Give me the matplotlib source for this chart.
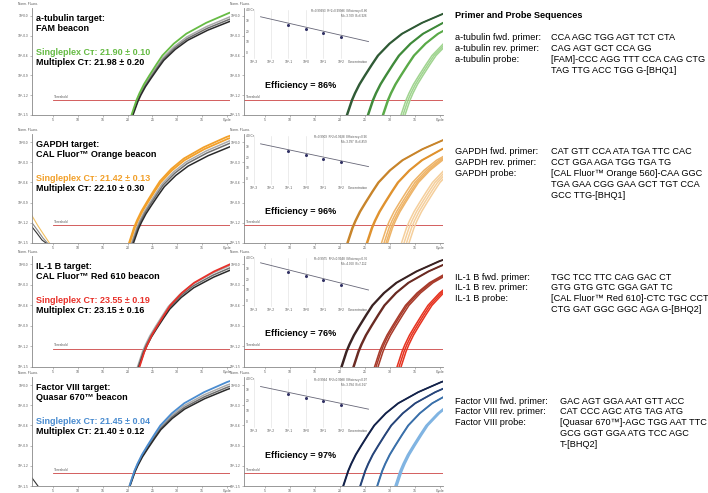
import numpy as np
import matplotlib
matplotlib.use("Agg")
import matplotlib.pyplot as plt

plt.rcParams['font.family'] = ['Liberation Sans', 'DejaVu Sans']

W, H = 708, 493

# text of the four panels
targets = ["a-tubulin target:", "GAPDH target:", "IL-1 B target:", "Factor VIII target:"]
beacons = ["FAM beacon", "CAL Fluor™ Orange beacon", "CAL Fluor™ Red 610 beacon", "Quasar 670™ beacon"]
single_ct_text = ["21.90 ± 0.10", "21.42 ± 0.13", "23.55 ± 0.19", "21.45 ± 0.04"]
multi_ct_text = ["21.98 ± 0.20", "22.10 ± 0.30", "23.15 ± 0.16", "21.40 ± 0.12"]
efficiency = [86, 96, 76, 97]
inset_notes = [["R=0.99993  R^2=0.99986  Efficiency=0.86", "M=-3.709  B=6.926"],
               ["R=0.9909  R^2=0.9938  Efficiency=0.96", "M=-3.397  B=6.859"],
               ["R=0.9975  R^2=0.9948  Efficiency=0.76", "M=-4.060  B=7.112"],
               ["R=0.9994  R^2=0.9988  Efficiency=0.97", "M=-3.394  B=6.917"]]

text_colors = ["#66bb44", "#f2a02a", "#e8312a", "#4a8cd0"]

# amplification curve shape (cycles relative to Ct, log fluorescence)
shape_dx = [-1.4, -1.0, -0.6, 0.0, 0.6, 1.5, 2.6, 4.0, 5.2, 7.5, 10.0, 14.0, 18.6, 24.0]
shape_y = [-0.35, 0.0, 0.3, 0.75, 1.1, 1.55, 2.0, 2.55, 3.0, 3.6, 4.1, 4.65, 5.15, 5.6]

# left panels: singleplex (coloured) and multiplex (grey) curves, Ct shift and plateau scale
left_single_ct = [[21.8], [21.3, 21.45], [23.4], [21.4]]
left_single_scale = [[1.0], [1.02, 1.0], [1.0], [1.0]]
left_multi_ct = [[21.9, 22.0, 22.1], [21.8, 22.0, 22.2], [23.0, 23.15, 23.3], [21.35, 21.45, 21.5]]
left_multi_scale = [[0.96, 0.94, 0.92], [0.98, 0.96, 0.93], [0.98, 0.96, 0.94], [0.97, 0.95, 0.93]]
multi_colors = ["#aaaaaa", "#6e6e6e", "#2a2a2a"]

# middle panels: dilution series
mid_group_ct = [[[22.3, 22.5], [26.5, 26.7], [29.5, 29.7], [33.2, 33.6, 34.0]],
                [[22.4, 22.6], [26.3, 26.5], [29.3, 29.8, 30.2, 30.5], [33.3, 33.8, 34.3, 34.8]],
                [[21.2, 21.4], [23.6, 23.8], [27.9, 28.2, 28.6], [32.4, 32.8, 33.2]],
                [[21.6, 21.7], [25.0, 25.1], [28.4, 28.5], [32.0, 32.2, 32.4]]]
mid_group_colors = [["#2f5a35", "#3f8a3a", "#5aaa48", "#a0d490"],
                    ["#c8842a", "#e0922e", "#eeb468", "#f5cf9c"],
                    ["#3a2222", "#6a2a22", "#a83a2a", "#e63320"],
                    ["#13224a", "#27457a", "#3a70aa", "#80b4e2"]]

thresholds = [0.75, 0.9, 0.9, 0.65]

# standard curve insets
inset_logc = [-1, 0, 1, 2]
inset_ct = [[26.4, 22.2, 18.4, 14.6], [26.0, 22.6, 19.2, 15.8],
            [27.5, 23.4, 19.4, 15.3], [26.3, 22.9, 19.5, 16.1]]
inset_fit_x = [-2.6, 3.6]
inset_fit_y = [[33.8, 10.8], [32.8, 11.7], [35.6, 10.4], [33.1, 12.1]]
inset_xlabels = ["10^-3", "10^-2", "10^-1", "10^0", "10^1", "10^2"]
inset_xpos = [-3, -2, -1, 0, 1, 2]
inset_yticks = [40, 30, 20, 10, 0]
inset_ylabels = ["40 Cт", "30", "20", "10", "0"]

# tick labels of the amplification plots
cycle_ticks = [5, 10, 15, 20, 25, 30, 35]
fluor_ticks = [0, 1, 2, 3, 4, 5]
fluor_labels = ["10^-1.5", "10^-1.2", "10^-0.9", "10^-0.6", "10^-0.3", "10^0.0"]

# primer tables
primer_labels = [["a-tubulin fwd. primer:", "a-tubulin rev. primer:", "a-tubulin probe:"],
                 ["GAPDH fwd. primer:", "GAPDH rev. primer:", "GAPDH probe:"],
                 ["IL-1 B fwd. primer:", "IL-1 B rev. primer:", "IL-1 B probe:"],
                 ["Factor VIII fwd. primer:", "Factor VIII rev. primer:", "Factor VIII probe:"]]
primer_seqs = [["CCA AGC TGG AGT TCT CTA", "CAG AGT GCT CCA GG",
                "[FAM]-CCC AGG TTT CCA CAG CTG", "TAG TTG ACC TGG G-[BHQ1]"],
               ["CAT GTT CCA ATA TGA TTC CAC", "CCT GGA AGA TGG TGA TG",
                "[CAL Fluor™ Orange 560]-CAA GGC", "TGA GAA CGG GAA GCT TGT CCA", "GCC TTG-[BHQ1]"],
               ["TGC TCC TTC CAG GAC CT", "GTG GTG GTC GGA GAT TC",
                "[CAL Fluor™ Red 610]-CTC TGC CCT", "CTG GAT GGC GGC AGA G-[BHQ2]"],
               ["GAC AGT GGA AAT GTT ACC", "CAT CCC AGC ATG TAG ATG",
                "[Quasar 670™]-AGC TGG AAT TTC", "GCG GGT GGA ATG TCC AGC", "T-[BHQ2]"]]

row_top = [8, 134, 256, 377]
row_bot = [115, 243, 367, 486]
first_line = [38, 152, 277, 401]
seq_x = [551, 551, 551, 560]

fig = plt.figure(figsize=(W / 100, H / 100), dpi=100)
fig.patch.set_facecolor("white")


def px_axes(x0, y0, x1, y1):
    return fig.add_axes([x0 / W, 1 - y1 / H, (x1 - x0) / W, (y1 - y0) / H])


def ftext(x, y, s, **kw):
    fig.text(x / W, 1 - y / H, s, **kw)


def style_amp(ax, thr, thr_start):
    ax.set_xlim(0.8, 40.6)
    ax.set_ylim(0, 5.4)
    for s in ["top", "right"]:
        ax.spines[s].set_visible(False)
    for s in ["left", "bottom"]:
        ax.spines[s].set_color("#888888")
        ax.spines[s].set_linewidth(0.6)
    ax.set_xticks(cycle_ticks + [40])
    ax.set_xticklabels([str(c) for c in cycle_ticks] + ["Cycle"], fontsize=2.5, color="#555555")
    ax.set_yticks(fluor_ticks)
    ax.set_yticklabels(fluor_labels, fontsize=2.3, color="#555555")
    ax.tick_params(length=1.5, width=0.4, pad=1, color="#888888")
    ax.axhline(thr, xmin=(thr_start - 0.8) / 39.8, color="#cc4444", lw=0.6)
    ax.text(thr_start + 0.3, thr + 0.1, "Threshold", fontsize=2.3, color="#555555")
    ax.text(-0.02, 1.03, "Norm. Fluoro.", transform=ax.transAxes, fontsize=2.3,
            color="#555555", ha="center")


for r in range(4):
    top, bot = row_top[r], row_bot[r]

    # left panel: singleplex vs multiplex
    ax = px_axes(32, top, 230, bot)
    style_amp(ax, thresholds[r], 5.0)
    if r == 1:
        ax.plot([0.8, 2.0, 3.2, 4.3], [1.35, 0.85, 0.4, 0.0], color="#f2c060", lw=0.8)
        ax.plot([0.8, 2.0, 3.0, 3.9], [1.0, 0.6, 0.25, 0.0], color="#888888", lw=0.8)
        ax.plot([0.8, 1.9, 2.8, 3.6], [0.8, 0.45, 0.15, 0.0], color="#333333", lw=0.8)
    if r == 3:
        ax.plot([0.8, 1.4, 2.0], [0.4, 0.2, 0.0], color="#333333", lw=0.8)
    for k, ct in enumerate(left_multi_ct[r]):
        ax.plot(np.array(shape_dx) + ct, np.array(shape_y) * left_multi_scale[r][k],
                color=multi_colors[k], lw=1.1)
    for k, ct in enumerate(left_single_ct[r]):
        ax.plot(np.array(shape_dx) + ct, np.array(shape_y) * left_single_scale[r][k],
                color=text_colors[r], lw=1.3)

    ftext(36, top + 6, targets[r], fontsize=6.5, fontweight="bold", va="top")
    ftext(36, top + 16, beacons[r], fontsize=6.5, fontweight="bold", va="top")
    ftext(36, top + 40, "Singleplex Cᴛ: " + single_ct_text[r], fontsize=6.5,
          fontweight="bold", va="top", color=text_colors[r])
    ftext(36, top + 50, "Multiplex Cᴛ: " + multi_ct_text[r], fontsize=6.5,
          fontweight="bold", va="top")

    # middle panel: dilution series
    ax = px_axes(244, top, 443, bot)
    style_amp(ax, thresholds[r], 0.8)
    for g, cts in enumerate(mid_group_ct[r]):
        for ct in cts:
            ax.plot(np.array(shape_dx) + ct, shape_y, color=mid_group_colors[r][g], lw=1.1)
    ftext(265, top + 78, "Efficiency = %d%%" % efficiency[r], fontsize=6.5,
          fontweight="bold", va="center")

    # standard curve inset
    ins = px_axes(244, top + 1, 372, top + 56)
    ins.patch.set_alpha(0)
    ins.set_xlim(-3.55, 3.8)
    ins.set_ylim(-10, 41)
    ins.axis("off")
    for xp, lab in zip(inset_xpos, inset_xlabels):
        ins.plot([xp, xp], [-4, 40], color="#dddddd", lw=0.4)
        ins.text(xp, -8.5, lab, fontsize=2.3, color="#555555", ha="center", va="center")
    ins.text(3.0, -8.5, "Concentration", fontsize=2.3, color="#555555", ha="center", va="center")
    for yp, lab in zip(inset_yticks, inset_ylabels):
        ins.text(-3.45, yp, lab, fontsize=2.3, color="#555555", ha="left", va="center")
    ins.plot(inset_fit_x, inset_fit_y[r], color="#666677", lw=0.6)
    ins.plot(inset_logc, inset_ct[r], "o", color="#333366", ms=1.2)
    ins.text(3.5, 39, inset_notes[r][0], fontsize=2.2, color="#555555", ha="right", va="center")
    ins.text(3.5, 34.5, inset_notes[r][1], fontsize=2.2, color="#555555", ha="right", va="center")

    # primer table
    for i, lab in enumerate(primer_labels[r]):
        ftext(455, first_line[r] + i * 10.8, lab, fontsize=6.6, va="center")
    for i, seq in enumerate(primer_seqs[r]):
        ftext(seq_x[r], first_line[r] + i * 10.8, seq, fontsize=6.6, va="center")

ftext(455, 15, "Primer and Probe Sequences", fontsize=6.6, fontweight="bold", va="center")

fig.savefig("out.png", dpi=100, facecolor="white")
